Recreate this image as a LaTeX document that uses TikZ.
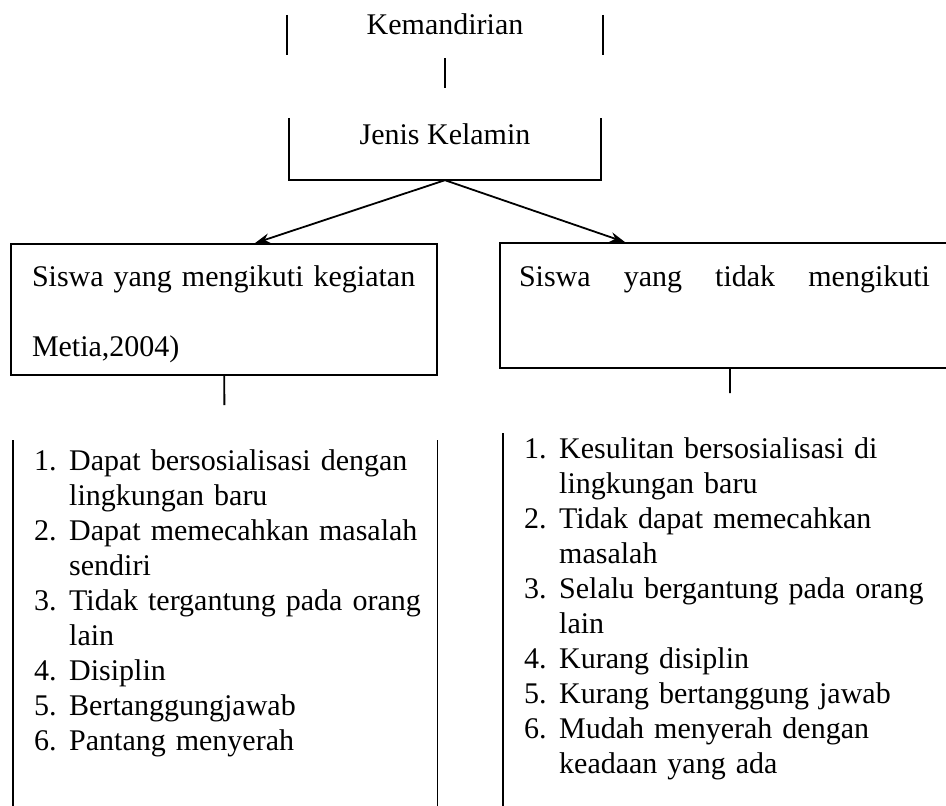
\documentclass[tikz,border=0pt]{standalone}
\usepackage{fontspec}
\setmainfont{Liberation Serif}
\usetikzlibrary{arrows.meta}
\tikzstyle{box} = [rectangle, draw=black, line width=1.8pt, inner sep=0pt, align=left, font=\fontsize{30}{70}\selectfont]
\tikzstyle{open} = [rectangle, inner sep=0pt, font=\fontsize{30}{36}\selectfont]
\tikzstyle{list} = [rectangle, anchor=north west, inner xsep=21pt, inner ysep=41pt, align=left, font=\fontsize{30}{35}\selectfont]
\tikzstyle{line} = [line width=1.8pt]
\tikzstyle{arrow} = [line width=1.8pt, -{Stealth[length=15pt, width=10pt]}]
\newcommand{\nomor}[1]{\makebox[35pt][l]{#1.}}
\newcommand{\atas}{\rule{0pt}{31pt}}

\begin{document}
\begin{tikzpicture}[x=1pt, y=1pt]
\useasboundingbox (0,0) rectangle (946,-806);
\clip (0,0) rectangle (946,-806);
\coordinate (bot) at (0,-830);

\node (top) [open, minimum width=316pt, minimum height=68pt] at (445,-24) {Kemandirian};
\node (jk) [open, minimum width=312pt, minimum height=92pt] at (445,-134) {Jenis Kelamin};
\node (ikut) [box, minimum width=426pt, minimum height=131pt, text width=384pt] at (224,-309.5) {\atas Siswa yang mengikuti kegiatan\\Metia,2004)};
\node (tidak) [box, minimum width=460pt, minimum height=125pt, text width=422pt] at (730,-305.5) {\atas\makebox[411pt][l]{Siswa\hfill yang\hfill tidak\hfill mengikuti}\\\mbox{}};

\node (ciriA) [list, text width=382pt] at (13,-405) {%
\begin{tabular}{@{}l@{}l@{}}
\nomor{1} & Dapat bersosialisasi dengan\\
 & lingkungan baru\\
\nomor{2} & Dapat memecahkan masalah\\
 & sendiri\\
\nomor{3} & Tidak tergantung pada orang\\
 & lain\\
\nomor{4} & Disiplin\\
\nomor{5} & Bertanggungjawab\\
\nomor{6} & Pantang menyerah
\end{tabular}};
\node (ciriB) [list, text width=412pt] at (503,-393) {%
\begin{tabular}{@{}l@{}l@{}}
\nomor{1} & Kesulitan bersosialisasi di\\
 & lingkungan baru\\
\nomor{2} & Tidak dapat memecahkan\\
 & masalah\\
\nomor{3} & Selalu bergantung pada orang\\
 & lain\\
\nomor{4} & Kurang disiplin\\
\nomor{5} & Kurang bertanggung jawab\\
\nomor{6} & Mudah menyerah dengan\\
 & keadaan yang ada
\end{tabular}};

\draw [line] ([yshift=-25pt]top.north west) -- ([yshift=3pt]top.south west);
\draw [line] ([yshift=-25pt]top.north east) -- ([yshift=3pt]top.south east);
\draw [line] ([yshift=-30pt]jk.north west) -- (jk.south west) -- (jk.south east) -- ([yshift=-30pt]jk.north east);
\draw [line] ([yshift=-35pt]ciriA.north west) -- (ciriA.north west |- bot);
\draw [line] ([yshift=-35pt]ciriA.north east) -- (ciriA.north east |- bot);
\draw [line] ([yshift=-40pt]ciriB.north west) -- (ciriB.north west |- bot);

\draw [line] (top) -- (jk);
\draw [arrow] (jk.south) -- ([xshift=31pt]ikut.north);
\draw [arrow] (jk.south) -- ([xshift=-105pt]tidak.north);
\draw [line] (ikut) -- (ciriA);
\draw [line] (tidak) -- (ciriB);
\end{tikzpicture}
\end{document}
